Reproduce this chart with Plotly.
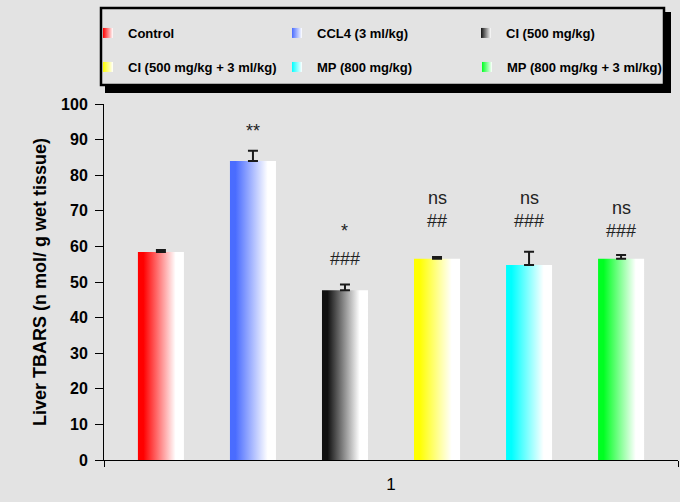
import plotly.graph_objects as go

# ---------------- data ----------------
groups = ["Control", "CCL4 (3 ml/kg)", "CI (500 mg/kg)",
          "CI (500 mg/kg + 3 ml/kg)", "MP (800 mg/kg)", "MP (800 mg/kg + 3 ml/kg)"]
tbars = [58.4, 84.0, 47.7, 56.5, 54.8, 56.5]
tbars_err = [0.6, 2.9, 1.6, 0.5, 3.7, 1.1]
category_label = "1"
sig_vs_control = ["", "**", "*", "ns", "ns", "ns"]
sig_vs_control_y = [None, 92.5, 64.2, 73.7, 73.7, 70.9]
sig_vs_ccl4 = ["", "", "###", "##", "###", "###"]
sig_vs_ccl4_y = [None, None, 56.6, 67.0, 67.0, 64.2]

# ---------------- style ----------------
colors = ["#ff0000", "#4a6cff", "#111111", "#ffff00", "#00ffff", "#00ff22"]
legend_ids = ["legend", "legend", "legend", "legend2", "legend2", "legend3"]
BG = "#e3e3e3"
BARGAP = 0.038
BARGROUPGAP = 0.5
W, H = 680, 502
ML, MR, MT, MB = 104, 2, 104, 42

n = len(groups)
slot = (1 - BARGAP) / n
bw = slot * (1 - BARGROUPGAP)
centers = [-0.5 + BARGAP / 2 + slot * (i + 0.5) for i in range(n)]

fig = go.Figure()

# gradient bars (filled polygons built from the values)
for i, (g, v, c) in enumerate(zip(groups, tbars, colors)):
    x0, x1 = centers[i] - bw / 2, centers[i] + bw / 2
    fig.add_trace(go.Scatter(
        x=[x0, x0, x1, x1, x0], y=[0, v, v, 0, 0],
        mode="lines", fill="toself",
        line=dict(width=0, color="rgba(0,0,0,0)"),
        fillgradient=dict(type="horizontal",
                          colorscale=[[0, c], [0.12, c], [0.82, "#ffffff"], [1, "#ffffff"]]),
        showlegend=False, hoverinfo="skip"))

# error bars (upward only)
fig.add_trace(go.Scatter(
    x=centers, y=tbars, mode="markers",
    marker=dict(size=1, color="rgba(0,0,0,0)"),
    error_y=dict(type="data", array=tbars_err, arrayminus=[0] * n, symmetric=False,
                 color="#1a1a1a", thickness=2, width=5),
    showlegend=False, hoverinfo="skip"))

# legend entries
for i, (g, c) in enumerate(zip(groups, colors)):
    fig.add_trace(go.Scatter(
        x=[None], y=[None], mode="markers", name=g,
        marker=dict(symbol="square", size=10, color=c,
                    gradient=dict(type="horizontal", color="#ffffff"),
                    line=dict(width=0)),
        legend=legend_ids[i]))

# significance labels
ann = []
for i in range(n):
    for txt, yy in ((sig_vs_control[i], sig_vs_control_y[i]), (sig_vs_ccl4[i], sig_vs_ccl4_y[i])):
        if txt:
            ann.append(dict(x=centers[i], y=yy, xref="x", yref="y", text=txt, showarrow=False,
                            font=dict(family="Arial", size=18, color="#222222"),
                            xanchor="center", yanchor="middle"))

def px_x(p):
    return (p - ML) / (W - ML - MR)

def px_y(p):
    return (H - MB - p) / (H - MT - MB)

shapes = [
    # shadow
    dict(type="rect", xref="paper", yref="paper",
         x0=px_x(105), x1=px_x(671), y0=px_y(93), y1=px_y(12),
         fillcolor="black", line=dict(width=0), layer="above"),
    # legend box
    dict(type="rect", xref="paper", yref="paper",
         x0=px_x(101), x1=px_x(664), y0=px_y(85), y1=px_y(8),
         fillcolor=BG, line=dict(width=2.5, color="black"), layer="above"),
]

legend_common = dict(orientation="h", xref="container", yref="container",
                     xanchor="left", yanchor="middle",
                     entrywidthmode="pixels",
                     font=dict(family="Arial", size=13, weight="bold", color="black"),
                     bgcolor="rgba(0,0,0,0)", borderwidth=0, itemwidth=30)

LX = 88
COL = 189.5

fig.update_layout(
    width=W, height=H,
    margin=dict(l=ML, r=MR, t=MT, b=MB),
    paper_bgcolor=BG, plot_bgcolor=BG,
    shapes=shapes, annotations=ann,
    legend=dict(x=LX / W, y=1 - 33 / H, entrywidth=144, **legend_common),
    legend2=dict(x=LX / W, y=1 - 67 / H, entrywidth=144, **legend_common),
    legend3=dict(x=(LX + 2 * COL) / W, y=1 - 67 / H, entrywidth=0, **legend_common),
    xaxis=dict(range=[-0.5, 0.5], showgrid=False, zeroline=False,
               showline=True, linecolor="black", linewidth=1,
               tickmode="array", tickvals=[0], ticktext=[category_label], ticks="",
               ticklabelstandoff=9,
               tickfont=dict(family="Arial", size=17, color="black"),
               minor=dict(tickmode="array", tickvals=[-0.5, 0.5], ticks="outside",
                          ticklen=6, tickcolor="black", tickwidth=1, showgrid=False)),
    yaxis=dict(range=[0, 100], dtick=10, showgrid=False, zeroline=False,
               showline=True, linecolor="black", linewidth=1,
               ticks="outside", ticklen=8, tickcolor="black", ticklabelstandoff=4,
               tickfont=dict(family="Arial", size=16, weight="bold", color="black"),
               title=dict(text="Liver TBARS (n mol/ g wet tissue)", standoff=9,
                          font=dict(family="Arial", size=18, weight="bold", color="black"))),
)

fig.write_html("out.html", config={"displayModeBar": False},
               post_script="document.body.style.margin='0';document.body.style.padding='0';")
